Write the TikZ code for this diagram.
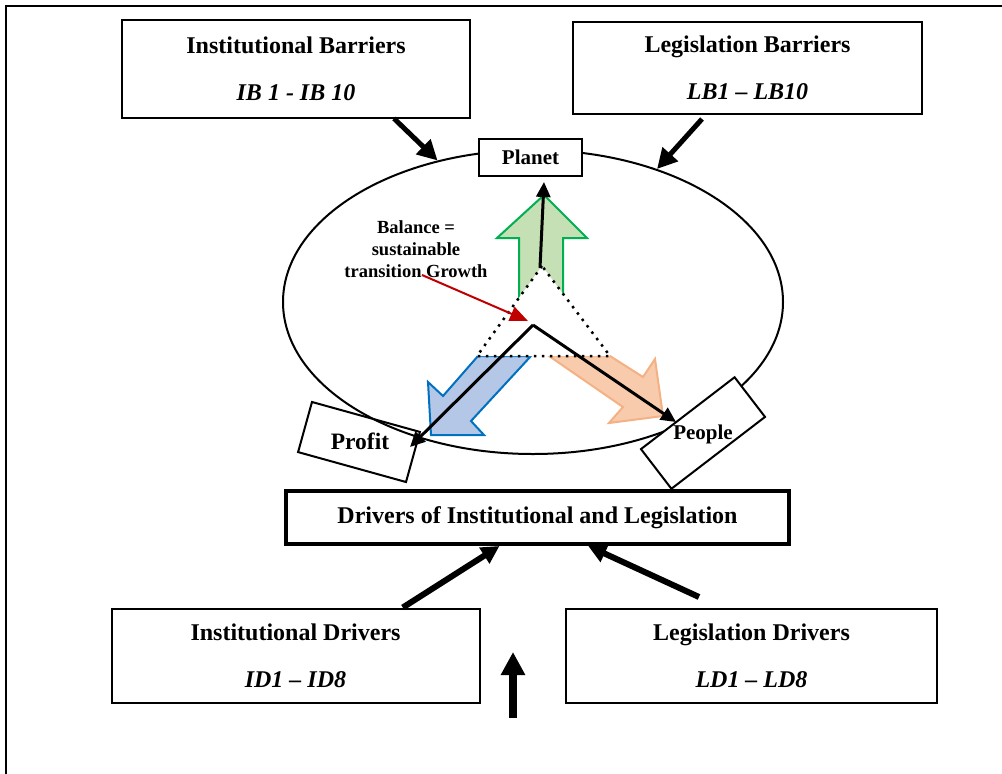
\documentclass[tikz,border=0pt]{standalone}
\usepackage{fontspec}
\setmainfont{Liberation Serif}
\usetikzlibrary{arrows.meta, shapes.geometric, calc}
\definecolor{planetfill}{HTML}{C5E0B4}
\definecolor{planetline}{HTML}{00B050}
\definecolor{profitfill}{HTML}{B4C7E7}
\definecolor{profitline}{HTML}{0070C0}
\definecolor{peoplefill}{HTML}{F8CBAD}
\definecolor{peopleline}{HTML}{F4B183}
\definecolor{balancered}{HTML}{C00000}
\tikzset{
    triple/.style={
        box/.style={draw, line width=2pt, fill=white, align=center, font=\bfseries\fontsize{24}{47}\selectfont},
        tag/.style={font=\bfseries\fontsize{21}{24}\selectfont},
        tilted/.style={draw, line width=2pt, inner sep=0pt},
        pillar/.style={line width=2pt, line join=miter},
        push/.style={-{Triangle[length=20pt, width=20pt]}, line width=5pt},
        heave/.style={-{Triangle[length=18pt, width=18pt]}, line width=6pt},
        pull/.style={-{Triangle[length=15pt, width=14pt]}, line width=3pt},
    },
}

\begin{document}
\begin{tikzpicture}[triple, x=1pt, y=-1pt]
    \useasboundingbox (0,0) rectangle (1002,774);
    \draw[line width=2pt] (6,774) -- (6,6) -- (1002,6);

    % the balance ring
    \node[draw, ellipse, line width=2pt, minimum width=500pt, minimum height=304pt] (ring) at (533,302) {};

    % block arrows
    \filldraw[pillar, draw=planetline, fill=planetfill] (519,310) -- (519,238) -- (497,238) -- (544,195) -- (587,238) -- (563,238) -- (563,310) -- cycle;
    \filldraw[pillar, draw=profitline, fill=profitfill] (478,356) -- (443,396) -- (428,382) -- (431,435) -- (484,435) -- (471,421) -- (531,356) -- cycle;
    \filldraw[pillar, draw=peopleline, fill=peoplefill] (549,356) -- (623,407) -- (609,423) -- (663,416) -- (655,359) -- (643,377) -- (610,356) -- cycle;

    % dotted triangle
    \coordinate (apex) at (542,266);
    \coordinate (baseL) at (477,356);
    \coordinate (baseR) at (610,356);
    \fill[white] (apex) -- (baseL) -- (baseR) -- cycle;
    \draw[line width=2.5pt, dash pattern=on 2.5pt off 5.5pt] (apex) -- (baseL) -- (baseR) -- cycle;

    % pillars
    \node[box, minimum width=103pt, minimum height=37pt, font=\bfseries\fontsize{21}{24}\selectfont] (planet) at (530.5,157.5) {Planet};
    \node[tilted, minimum width=112pt, minimum height=52pt, rotate=-15.5] (profitbox) at (359,442) {};
    \node[tag, font=\bfseries\fontsize{23.5}{26}\selectfont] (profit) at (360,441) {Profit};
    \node[tilted, fill=white, minimum width=118pt, minimum height=50pt, rotate=37.5] (peoplebox) at (703,433) {};
    \node[tag] (people) at (703,434) {People};

    \coordinate (hub) at (533,325);
    \coordinate (stem) at (540,268);
    \coordinate (planettip) at (544,182);
    \coordinate (profittip) at (410,447);
    \coordinate (peopletip) at (676,422);
    \draw[pull] (stem) -- (planettip);
    \draw[pull] (hub) -- (profittip);
    \draw[pull] (hub) -- (peopletip);

    % balance note
    \node[align=center, font=\bfseries\fontsize{18.5}{22}\selectfont] (balance) at (416,249) {Balance =\\sustainable\\transition Growth};
    \coordinate (cue) at (422,275);
    \coordinate (cueend) at (528,321);
    \draw[-{Triangle[length=18pt, width=15pt]}, line width=2pt, balancered] (cue) -- (cueend);

    % barriers
    \node[box, minimum width=348pt, minimum height=98pt] (ib) at (296,68.5) {Institutional Barriers\\\textit{IB 1 - IB 10}};
    \node[box, minimum width=349pt, minimum height=92pt] (lb) at (747.5,67.5) {Legislation Barriers\\\textit{LB1 -- LB10}};
    \coordinate (lbtail) at (702,119);
    \draw[push] ($(ib.south west)!0.78!(ib.south east)$) -- (ring.124);
    \draw[push] (lbtail) -- (ring.47);

    % drivers
    \node[box, line width=4pt, minimum width=503pt, minimum height=53pt, font=\bfseries\fontsize{24}{28}\selectfont] (drivers) at (537.5,517.5) {Drivers of Institutional and Legislation};
    \node[box, minimum width=368pt, minimum height=94pt] (id) at (295.5,655.5) {Institutional Drivers\\\textit{ID1 -- ID8}};
    \node[box, minimum width=371pt, minimum height=94pt] (ld) at (751.5,655.5) {Legislation Drivers\\\textit{LD1 -- LD8}};
    \coordinate (ldtail) at (699,597);
    \coordinate (lift) at (513,718);
    \coordinate (liftend) at (513,652);
    \draw[heave] ($(id.north west)!0.79!(id.north east)$) -- ($(drivers.south west)!0.425!(drivers.south east)$);
    \draw[heave] (ldtail) -- ($(drivers.south west)!0.6!(drivers.south east)$);
    \draw[-{Triangle[length=23pt, width=23pt]}, line width=8pt] (lift) -- (liftend);
\end{tikzpicture}
\end{document}
